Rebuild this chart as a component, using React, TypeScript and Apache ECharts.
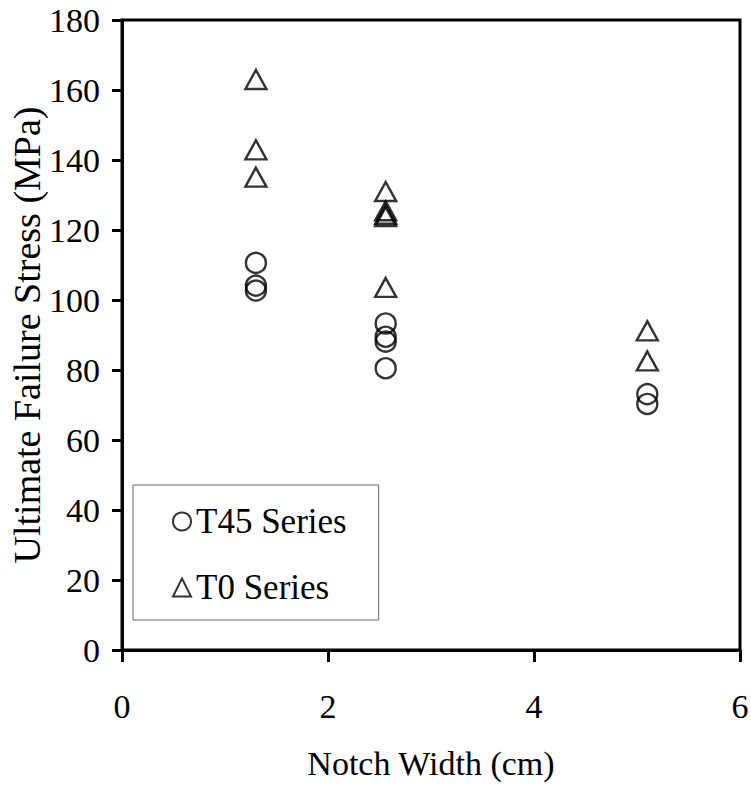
import React, { useEffect, useRef } from "react";
import * as echarts from "echarts";

const xTicks = [0, 2, 4, 6];
const yTicks = [0, 20, 40, 60, 80, 100, 120, 140, 160, 180];

const t45X = [1.3, 1.3, 1.3, 2.56, 2.56, 2.56, 2.56, 5.1, 5.1];
const t45Y = [110.6, 104.1, 102.7, 93.3, 89.5, 88.1, 80.5, 73.1, 70.3];

const t0X = [1.3, 1.3, 1.3, 2.56, 2.56, 2.56, 2.56, 2.56, 5.1, 5.1];
const t0Y = [163, 142.9, 135.1, 131, 125.5, 124.5, 123.8, 103.6, 91.2, 82.6];

const FONT = "'Liberation Serif', 'Times New Roman', serif";

export default function App() {
  const ref = useRef<HTMLDivElement>(null);
  useEffect(() => {
    if (!ref.current) return;
    const chart = echarts.init(ref.current, null, { renderer: "svg" });
    const markerStyle = {
      color: "rgba(0,0,0,0)",
      borderColor: "#000",
      borderWidth: 2.4,
    };
    chart.setOption({
      animation: false,
      backgroundColor: "#fff",
      grid: {
        left: 122,
        right: 11,
        top: 20,
        bottom: 135,
        outerBoundsMode: "none",
        containLabel: false,
        show: true,
        borderColor: "#000",
        borderWidth: 3,
        backgroundColor: "transparent",
      },
      legend: {
        left: 133,
        top: 485,
        orient: "vertical",
        borderColor: "#666",
        borderWidth: 1,
        padding: [19, 32, 15, 39],
        itemGap: 31,
        itemWidth: 18,
        itemHeight: 18,
        textStyle: { fontSize: 35, fontFamily: FONT, color: "#000" },
        data: [
          { name: "T45 Series", icon: "circle", itemStyle: { ...markerStyle, borderWidth: 2 } },
          { name: "T0 Series", icon: "triangle", itemStyle: { ...markerStyle, borderWidth: 2 } },
        ],
      },
      xAxis: {
        type: "value",
        min: xTicks[0],
        max: xTicks[xTicks.length - 1],
        interval: 2,
        name: "Notch Width (cm)",
        nameLocation: "middle",
        nameGap: 96,
        nameMoveOverlap: false,
        nameTextStyle: { fontSize: 34, lineHeight: 34, fontFamily: FONT, color: "#000" },
        axisLine: { show: true, lineStyle: { color: "#000", width: 3 } },
        axisTick: { show: true, length: 12, lineStyle: { color: "#000", width: 3 } },
        axisLabel: { fontSize: 34, fontFamily: FONT, color: "#000", margin: 39 },
        splitLine: { show: false },
      },
      yAxis: {
        type: "value",
        min: yTicks[0],
        max: yTicks[yTicks.length - 1],
        interval: 20,
        name: "Ultimate Failure Stress (MPa)",
        nameLocation: "middle",
        nameGap: 76,
        nameMoveOverlap: false,
        nameTextStyle: { fontSize: 38, lineHeight: 38, fontFamily: FONT, color: "#000" },
        axisLine: { show: true, lineStyle: { color: "#000", width: 3 } },
        axisTick: { show: true, length: 10, lineStyle: { color: "#000", width: 3 } },
        axisLabel: { fontSize: 34, fontFamily: FONT, color: "#000", margin: 22 },
        splitLine: { show: false },
      },
      series: [
        {
          name: "T45 Series",
          type: "scatter",
          symbol: "circle",
          symbolSize: 20,
          itemStyle: markerStyle,
          data: t45X.map((x, i) => [x, t45Y[i]]),
        },
        {
          name: "T0 Series",
          type: "scatter",
          symbol: "triangle",
          symbolSize: [21, 19],
          itemStyle: markerStyle,
          data: t0X.map((x, i) => [x, t0Y[i]]),
        },
      ],
    });
    return () => chart.dispose();
  }, []);
  return (
    <div
      ref={ref}
      style={{ position: "absolute", left: 0, top: 0, width: 751, height: 785 }}
    />
  );
}
